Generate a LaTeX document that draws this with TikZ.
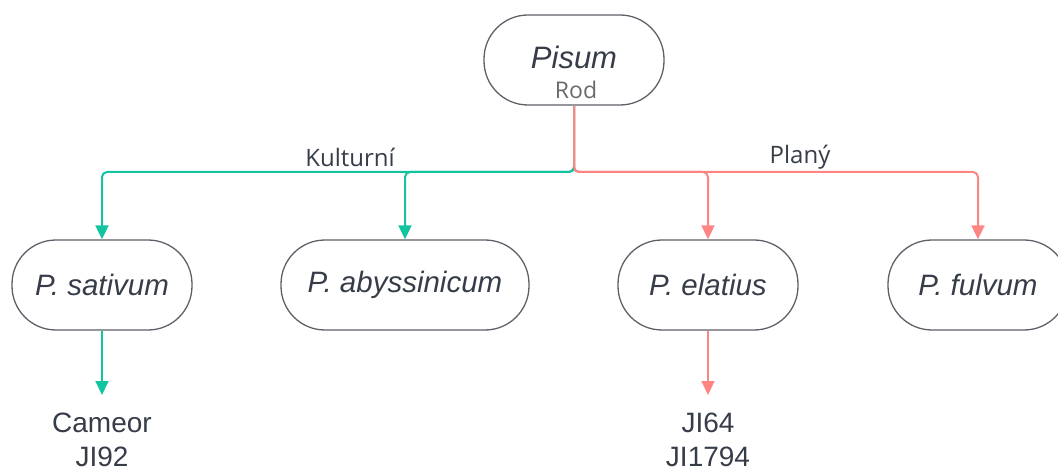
\documentclass[tikz,border=0pt]{standalone}
\usepackage{fontspec}
\setmainfont{Liberation Sans}
\newfontfamily\rodfont{Open Sans}
\usetikzlibrary{arrows.meta}

\definecolor{kultgreen}{HTML}{12C4A0}
\definecolor{planred}{HTML}{FF8585}
\definecolor{boxgray}{HTML}{5C6068}
\definecolor{txtdark}{HTML}{363C48}
\definecolor{rodgray}{HTML}{6A6A6A}

\tikzset{
  taxon/.style={draw=boxgray, line width=1.3pt, rounded corners=44pt,
    minimum width=180pt, minimum height=90pt, text=txtdark,
    font=\fontsize{29.5}{32}\selectfont\itshape, inner sep=0pt},
  leaf/.style={text=txtdark, align=center, inner xsep=0pt, inner ysep=18pt,
    font=\fontsize{28}{34}\selectfont},
  branchlab/.style={text=txtdark, font=\rodfont\fontsize{24}{26}\selectfont},
  kult/.style={draw=kultgreen, line width=2pt, rounded corners=5pt,
    -{Triangle[length=14pt,width=13pt]}},
  plan/.style={draw=planred, line width=2pt, rounded corners=5pt,
    -{Triangle[length=14pt,width=13pt]}}
}

\begin{document}
\begin{tikzpicture}[x=1pt, y=-1pt]
    \useasboundingbox (0,0) rectangle (1058,473);

    % Rod
    \node[taxon] (root) at (574,60) {};
    \node[text=txtdark, font=\fontsize{31}{34}\selectfont\itshape] (rootname) at (574,57) {Pisum};
    \node[text=rodgray, font=\rodfont\fontsize{23}{26}\selectfont] (roottag) at (576,90) {Rod};

    % Species
    \node[taxon] (sat) at (102,285) {P. sativum};
    \node[taxon, minimum width=248pt] (aby) at (405,285) {P. abyssinicum};
    \node[taxon] (ela) at (708,285) {P. elatius};
    \node[taxon] (ful) at (978,285) {P. fulvum};

    % Branch labels
    \node[branchlab] (kultlab) at (350,157) {Kulturní};
    \node[branchlab] (planlab) at (800,157) {Planý};

    % Branches
    \coordinate (fork) at (574,172);
    \draw[kult] (root.south) -- (fork) -| (sat.north);
    \draw[kult] (root.south) -- (fork) -| (aby.north);
    \draw[plan] (root.south) -- (fork) -| (ela.north);
    \draw[plan] (root.south) -- (fork) -| (ful.north);

    % Lines
    \node[leaf, anchor=north] (satlines) at (102,395) {Cameor\\JI92};
    \node[leaf, anchor=north] (elalines) at (708,395) {JI64\\JI1794};
    \draw[kult] (sat.south) -- (satlines.north);
    \draw[plan] (ela.south) -- (elalines.north);
\end{tikzpicture}
\end{document}
